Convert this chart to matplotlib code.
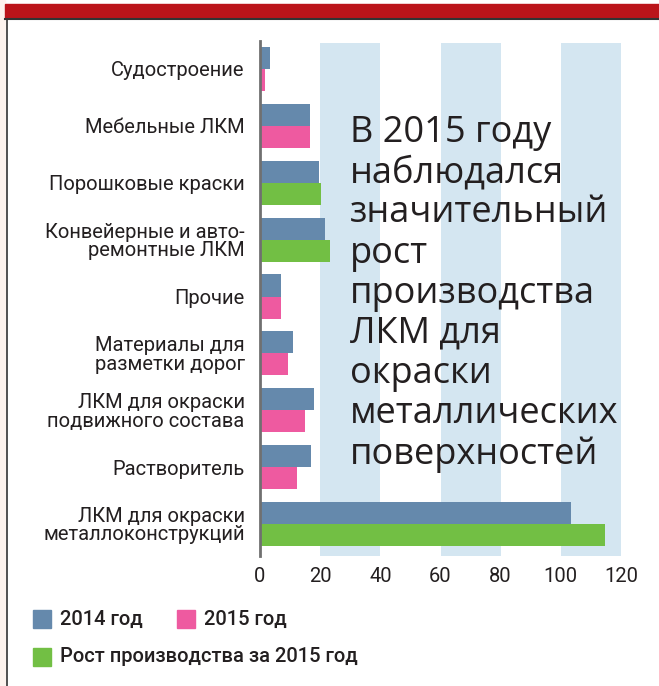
import matplotlib.pyplot as plt
from matplotlib.patches import Rectangle
from matplotlib.lines import Line2D
from matplotlib import font_manager
import numpy as np

# Data
categories = [
    "Судостроение",
    "Мебельные ЛКМ",
    "Порошковые краски",
    "Конвейерные и авто-\nремонтные ЛКМ",
    "Прочие",
    "Материалы для\nразметки дорог",
    "ЛКМ для окраски\nподвижного состава",
    "Растворитель",
    "ЛКМ для окраски\nметаллоконструкций",
]
values_2014 = [3.3, 16.7, 19.7, 21.7, 7.0, 11.0, 18.0, 17.0, 103.3]
values_2015 = [1.7, 16.7, 20.3, 23.3, 7.0, 9.3, 15.0, 12.3, 114.7]
growth = [False, False, True, True, False, False, False, False, True]
xticks = [0, 20, 40, 60, 80, 100, 120]

note = ("В 2015 году\nнаблюдался\nзначительный\nрост\nпроизводства\n"
        "ЛКМ для\nокраски\nметаллических\nповерхностей")

legend_labels = ["2014 год", "2015 год", "Рост производства за 2015 год"]

c_2014 = "#6589ac"
c_2015 = "#ee5aa0"
c_growth = "#72bf44"
c_band = "#d4e6f1"
c_text = "#231f20"

installed = {f.name for f in font_manager.fontManager.ttflist}
narrow = "Liberation Sans Narrow" if "Liberation Sans Narrow" in installed else "Roboto"

W, H = 659, 686
fig = plt.figure(figsize=(W / 100, H / 100), dpi=100)

# frame decorations
fig.patches.append(Rectangle((0, 0), 5 / W, 1, transform=fig.transFigure,
                             color="#fdf3ee", zorder=0))
fig.patches.append(Rectangle((5 / W, 1 - 18 / H), 1, 14 / H, transform=fig.transFigure,
                             color="#bb141a", zorder=1))
fig.lines.append(Line2D([5 / W, 1], [1 - 19 / H, 1 - 19 / H], transform=fig.transFigure,
                        color="#333333", lw=1.5))
fig.lines.append(Line2D([6.5 / W, 6.5 / W], [0, 1 - 19 / H], transform=fig.transFigure,
                        color="#333333", lw=1.2))

ax_l, ax_r, ax_t, ax_b = 260, 621, 41, 556
ax = fig.add_axes([ax_l / W, 1 - ax_b / H, (ax_r - ax_l) / W, (ax_b - ax_t) / H])

y = np.arange(len(categories))
h = 0.387
ax.barh(y - h / 2, values_2014, height=h, color=c_2014, zorder=2)
second_colors = [c_growth if g else c_2015 for g in growth]
ax.barh(y + h / 2, values_2015, height=h, color=second_colors, zorder=2)

for x0 in (20, 60, 100):
    ax.axvspan(x0, x0 + 20, ymin=0, ymax=(ax_b - 43) / (ax_b - ax_t), color=c_band, zorder=0, lw=0)

ax.set_xlim(0, 120)
ax.set_ylim(8 + 0.56, -0.49)
ax.set_xticks(xticks)
ax.set_xticklabels([str(t) for t in xticks], fontsize=14.5, family=narrow, color=c_text)
ax.set_yticks(y)
ax.set_yticklabels(categories, fontsize=14.5, family=narrow, color=c_text, linespacing=0.95)
ax.tick_params(length=0, pad=11, axis="y")
ax.tick_params(length=0, pad=8, axis="x")
for s in ("top", "right", "bottom"):
    ax.spines[s].set_visible(False)
ax.spines["left"].set_color("#707070")
ax.spines["left"].set_linewidth(2)
ax.spines["left"].set_zorder(3)

fig.text(350 / W, 1 - 115 / H, note, fontsize=26, family="Open Sans",
         color=c_text, va="top", ha="left", linespacing=1.155)

# legend
leg = [(33, 619, c_2014, legend_labels[0]),
       (177, 619, c_2015, legend_labels[1]),
       (33, 657, c_growth, legend_labels[2])]
for lx, ly, col, lab in leg:
    fig.patches.append(Rectangle((lx / W, 1 - (ly + 9) / H), 18 / W, 18 / H,
                                 transform=fig.transFigure, color=col))
    fig.text((lx + 27) / W, 1 - ly / H, lab, fontsize=14.5, family=narrow,
             weight="medium", color=c_text, va="center", ha="left")

fig.savefig("out.png", dpi=100)
